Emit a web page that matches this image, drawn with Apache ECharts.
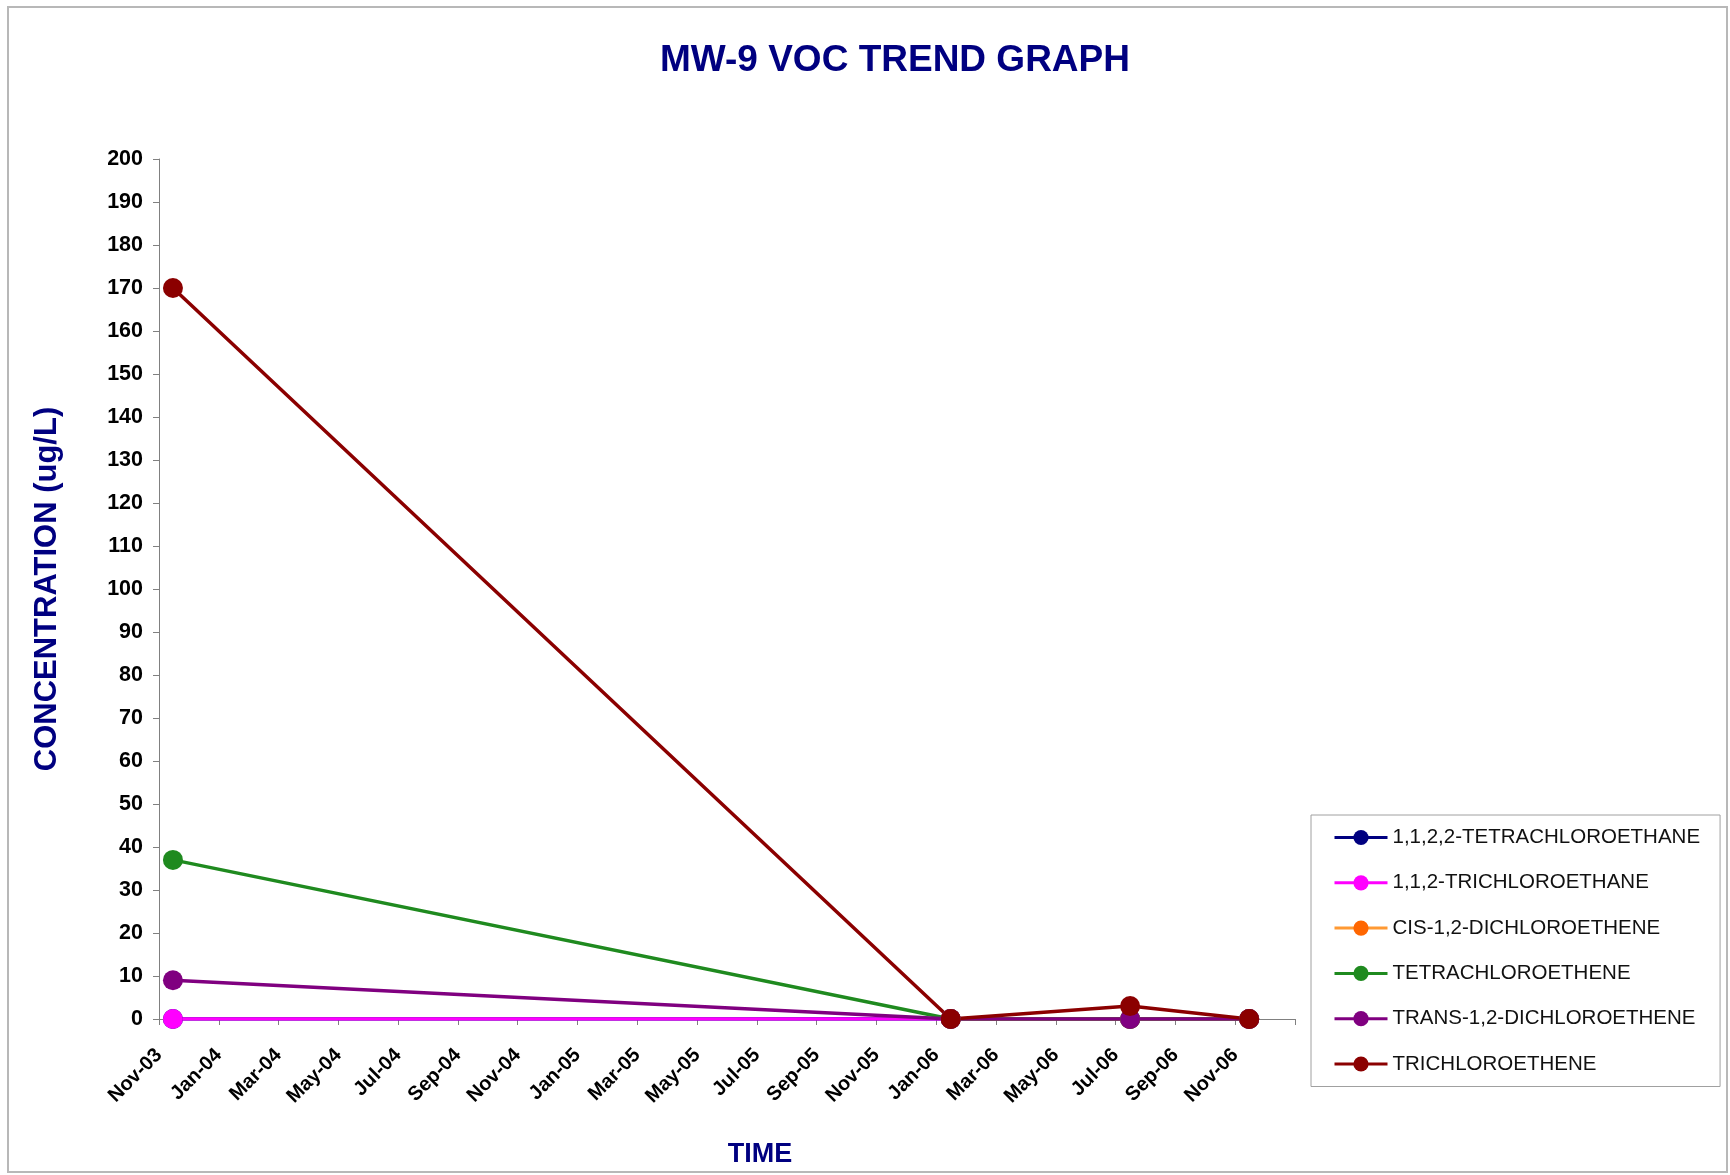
<!DOCTYPE html>
<html>
<head>
<meta charset="utf-8">
<script src="https://cdn.jsdelivr.net/npm/echarts@6/dist/echarts.min.js"></script>
<style>
  html, body { margin: 0; padding: 0; background: #fff; }
  #chart { width: 1730px; height: 1175px; }
</style>
</head>
<body>
<div id="chart"></div>
<script>
// sample dates (axis runs Nov-03 .. Jan-07 in months)
const sampleDates = ["2003-11-15", "2006-01-16", "2006-07-16", "2006-11-15"]

const seriesNames = [
  "1,1,2,2-TETRACHLOROETHANE",
  "1,1,2-TRICHLOROETHANE",
  "CIS-1,2-DICHLOROETHENE",
  "TETRACHLOROETHENE",
  "TRANS-1,2-DICHLOROETHENE",
  "TRICHLOROETHENE",
]

const tetrachloroethane = [0, 0, 0, 0]
const trichloroethane = [0, 0, 0, 0]
const cisDce = [null, 0, 0, 0]
const pce = [37, 0, 0, 0]
const transDce = [9, 0, 0, 0]
const tce = [170, 0, 3, 0]

const monthNames = ["Jan", "Feb", "Mar", "Apr", "May", "Jun", "Jul", "Aug", "Sep", "Oct", "Nov", "Dec"]
const yTicks = { min: 0, max: 200, step: 10 }
const xTicks = { min: 0, max: 38, step: 2 } // months since Nov-03

const lineColors = ["#000080", "#ff00ff", "#ff9933", "#1f8a1f", "#800080", "#8b0000"]
const markerColors = ["#000080", "#ff00ff", "#ff6600", "#1f8a1f", "#800080", "#8b0000"]

// months since 1 Nov 2003 (fractional)
function toMonths(s) {
  const [y, m, d] = s.split("-").map(Number)
  const dim = new Date(y, m, 0).getDate()
  return (y - 2003) * 12 + (m - 11) + (d - 1) / dim
}

function monthLabel(v) {
  if (v >= xTicks.max) return ""
  const idx = 10 + v
  const mon = monthNames[idx % 12]
  const yr = 2003 + Math.floor(idx / 12)
  return mon + "-" + String(yr).slice(2)
}

const allValues = [tetrachloroethane, trichloroethane, cisDce, pce, transDce, tce]
const xs = sampleDates.map(toMonths)

const font = "'Liberation Sans', Arial, sans-serif"

const chart = echarts.init(document.getElementById("chart"))

chart.setOption({
  animation: false,
  backgroundColor: "#ffffff",
  textStyle: { fontFamily: font },
  title: {
    text: "MW-9 VOC TREND GRAPH",
    left: 890,
    top: 37,
    textAlign: "center",
    textStyle: {
      color: "#000080",
      fontSize: 37,
      fontWeight: "bold",
      fontFamily: font,
    },
  },
  graphic: [
    {
      type: "rect",
      shape: { x: 8, y: 7, width: 1719, height: 1165 },
      style: { fill: "none", stroke: "#b8b8b8", lineWidth: 2 },
      silent: true,
    },
  ],
  legend: {
    orient: "vertical",
    left: 1311,
    top: 815,
    padding: [12, 20, 12, 22],
    borderColor: "#a0a0a0",
    borderWidth: 1,
    itemWidth: 53,
    itemHeight: 19,
    itemGap: 24.3,
    lineStyle: { width: 3 },
    textStyle: {
      color: "#111111",
      fontSize: 20.5,
      lineHeight: 20,
      fontFamily: font,
    },
    data: seriesNames,
  },
  grid: {
    left: 159,
    top: 159,
    right: 435,
    bottom: 156,
  },
  xAxis: {
    type: "value",
    min: xTicks.min,
    max: xTicks.max,
    interval: xTicks.step,
    name: "TIME",
    nameLocation: "middle",
    nameGap: 122,
    nameTextStyle: {
      color: "#000080",
      fontSize: 27,
      fontWeight: "bold",
      fontFamily: font,
      padding: [0, 0, 0, 66],
    },
    axisLine: { show: true, lineStyle: { color: "#808080", width: 1 } },
    axisTick: { show: true, length: 6, lineStyle: { color: "#808080" } },
    splitLine: { show: false },
    axisLabel: {
      rotate: 45,
      margin: 33,
      color: "#000000",
      fontSize: 20,
      fontWeight: "bold",
      fontFamily: font,
      formatter: monthLabel,
    },
  },
  yAxis: {
    type: "value",
    min: yTicks.min,
    max: yTicks.max,
    interval: yTicks.step,
    name: "CONCENTRATION (ug/L)",
    nameLocation: "middle",
    nameGap: 96,
    nameTextStyle: {
      color: "#000080",
      fontSize: 31,
      fontWeight: "bold",
      fontFamily: font,
    },
    axisLine: { show: true, lineStyle: { color: "#808080", width: 1 } },
    axisTick: { show: true, length: 6, lineStyle: { color: "#808080" } },
    splitLine: { show: false },
    axisLabel: {
      margin: 16,
      color: "#000000",
      fontSize: 21.5,
      fontWeight: "bold",
      fontFamily: font,
    },
  },
  series: seriesNames.map((name, i) => ({
    name: name,
    type: "line",
    symbol: "circle",
    symbolSize: 20,
    showAllSymbol: true,
    connectNulls: false,
    lineStyle: { width: 3.5, color: lineColors[i] },
    itemStyle: { color: markerColors[i] },
    data: xs.map((x, j) => [x, allValues[i][j]]),
  })),
})
</script>
</body>
</html>
